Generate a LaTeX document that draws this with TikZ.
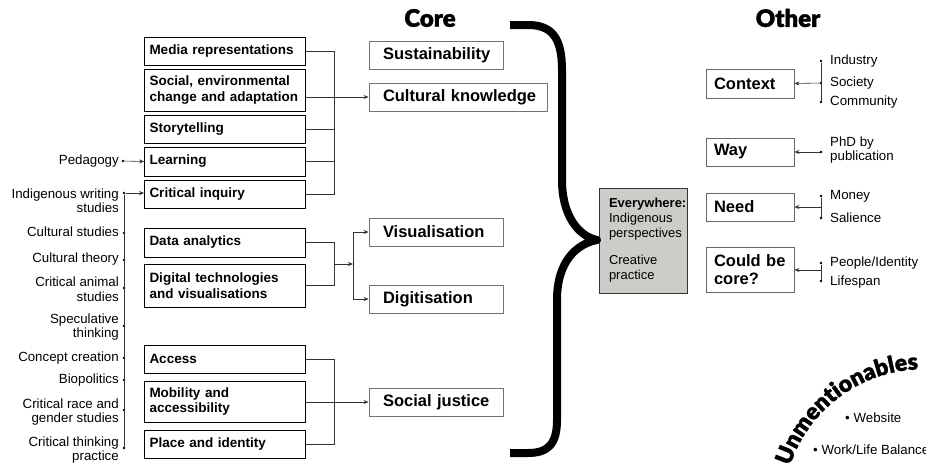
\documentclass[tikz,border=0pt]{standalone}
\usepackage{fontspec}
\setmainfont{Liberation Sans}
\IfFontExistsTF{Lato Black}{\newfontfamily\blackfont[FakeBold=1.5]{Lato Black}}{\newfontfamily\blackfont[FakeBold=2]{Liberation Sans Bold}}
\usetikzlibrary{arrows.meta,decorations.text}
\definecolor{evgray}{RGB}{205,204,201}
\begin{document}
\begin{tikzpicture}[x=1pt,y=-1pt,
  lbox/.style={draw=black, line width=0.8pt, text width=151pt, inner xsep=5pt, inner ysep=0pt, align=left, font=\fontsize{13.5}{15.5}\selectfont\bfseries},
  cbox/.style={draw=black!55, line width=0.8pt, text width=106pt, inner xsep=14pt, inner ysep=0pt, minimum height=28pt, align=left, font=\fontsize{16.5}{18}\selectfont\bfseries},
  rbox/.style={draw=black!60, line width=0.8pt, text width=72pt, inner xsep=8pt, inner ysep=0pt, align=left, font=\fontsize{16.5}{18}\selectfont\bfseries},
  slab/.style={font=\fontsize{13.3}{14.5}\selectfont, inner sep=0pt},
  dot/.style={circle, fill=black, inner sep=0pt, minimum size=2.6pt},
  conn/.style={draw=black!80, line width=0.6pt},
  arr/.style={conn, -{Stealth[length=5pt,width=4pt]}},
  title/.style={font=\blackfont\fontsize{24}{24}\selectfont, inner sep=0pt}
]
\useasboundingbox (0,0) rectangle (926,475);

% titles
\node[title] (core) at (430,18) {Core};
\node[title] (other) at (788,18) {Other};

% left boxes
\node[lbox, minimum height=28pt] (media) at (225,51) {Media representations};
\node[lbox, minimum height=42pt] (social) at (225,90) {Social, environmental\\change and adaptation};
\node[lbox, minimum height=28pt] (story) at (225,129) {Storytelling};
\node[lbox, minimum height=29pt] (learn) at (225,161.5) {Learning};
\node[lbox, minimum height=28pt] (crit) at (225,194) {Critical inquiry};
\node[lbox, minimum height=29pt] (data) at (225,242.5) {Data analytics};
\node[lbox, minimum height=43pt] (digi) at (225,285.5) {Digital technologies\\and visualisations};
\node[lbox, minimum height=28pt] (access) at (225,359) {Access};
\node[lbox, minimum height=41pt] (mob) at (225,401.5) {Mobility and\\accessibility};
\node[lbox, minimum height=28pt] (place) at (225,444) {Place and identity};

% core boxes
\node[cbox] (sus) at (436,55) {\mbox{Sustainability}};
\node[cbox, text width=150pt] (ck) at (458,97) {\mbox{Cultural knowledge}};
\node[cbox] (vis) at (436,232) {\mbox{Visualisation}};
\node[cbox] (digit) at (436,299) {\mbox{Digitisation}};
\node[cbox] (sj) at (436,402) {\mbox{Social justice}};

% group connectors
\coordinate (bx) at (334,0);
\draw[conn] (media.east) -| (bx |- crit.east) -- (crit.east);
\draw[conn] (story.east) -- (story.east -| bx);
\draw[conn] (learn.east) -- (learn.east -| bx);
\draw[arr] (social.east |- ck.west) -- (ck.west);

\draw[conn] (data.east) -| (bx |- digi.east) -- (digi.east);
\coordinate (j2) at (334,264);
\coordinate (k2) at (353,264);
\draw[arr] (j2) -- (k2);
\draw[arr] (k2) |- (vis.west);
\draw[arr] (k2) |- (digit.west);

\draw[conn] (access.east) -| (bx |- place.east) -- (place.east);
\draw[arr] (mob.east |- sj.west) -- (sj.west);

% left labels
\node[slab, anchor=east] (tped) at (119,161) {Pedagogy};
\node[dot] (dped) at (123,161) {};
\draw[arr] (dped) -- (learn.west);

\node[slab, anchor=east, align=right] (tiws) at (119,200.5) {Indigenous writing\\studies};
\node[dot] (diws) at (124,193) {};
\node[slab, anchor=east] (tcs) at (119,232) {Cultural studies};
\node[dot] (dcs) at (124,233) {};
\node[slab, anchor=east] (tct) at (119,259) {Cultural theory};
\node[dot] (dct) at (124,260) {};
\node[slab, anchor=east, align=right] (tcas) at (119,289) {Critical animal\\studies};
\node[dot] (dcas) at (124,288) {};
\node[slab, anchor=east, align=right] (tspec) at (119,327) {Speculative\\thinking};
\node[dot] (dspec) at (124,326) {};
\node[slab, anchor=east] (tcc) at (119,358) {Concept creation};
\node[dot] (dcc) at (124,358) {};
\node[slab, anchor=east] (tbio) at (119,380) {Biopolitics};
\node[dot] (dbio) at (124,380) {};
\node[slab, anchor=east, align=right] (tcrg) at (119,412) {Critical race and\\gender studies};
\node[dot] (dcrg) at (124,410) {};
\node[slab, anchor=east, align=right] (tctp) at (119,450) {Critical thinking\\practice};
\node[dot] (dctp) at (124,448) {};
\draw[conn] (diws) -- (dctp);
\draw[arr] (diws) -- (diws -| crit.west);

% everywhere box
\node[draw=black!80, fill=evgray, line width=0.9pt, text width=68pt, inner xsep=10pt, inner ysep=0pt, minimum height=105pt, align=left, font=\fontsize{13}{15}\selectfont] (every) at (643,240.5) {\textbf{Everywhere:}\\Indigenous\\perspectives\\[12pt]Creative\\practice};

% brace
\draw[line width=8pt, line join=round] (510,25) -- (528,25) .. controls (552,25) and (562,38) .. (562,70) -- (562,180) .. controls (562,215) and (578,236) .. (597,240) .. controls (576,244) and (557,262) .. (557,300) -- (557,420) .. controls (557,444) and (548,453) .. (528,453) -- (510,453);

% right boxes
\node[rbox, minimum height=29pt] (context) at (750,83.5) {Context};
\node[rbox, minimum height=28pt] (way) at (750,152) {Way};
\node[rbox, minimum height=28pt] (need) at (750,207) {Need};
\node[rbox, minimum height=45pt] (could) at (750,269.5) {Could be\\core?};

% right labels
\node[slab, anchor=west] (tind) at (830,61) {Industry};
\node[dot] (dind) at (821,61) {};
\node[slab, anchor=west] (tsoc) at (830,83) {Society};
\node[dot] (dsoc) at (821,83) {};
\node[slab, anchor=west] (tcom) at (830,102) {Community};
\node[dot] (dcom) at (821,102) {};
\draw[conn] (dind) -- (dcom);
\draw[arr] (dsoc) -- (context.east);

\node[slab, anchor=west, align=left] (tphd) at (830,150) {PhD by\\publication};
\node[dot] (dphd) at (821,152) {};
\draw[arr] (dphd) -- (dphd -| way.east);

\node[slab, anchor=west] (tmon) at (830,196) {Money};
\node[dot] (dmon) at (821,196) {};
\node[slab, anchor=west] (tsal) at (830,218) {Salience};
\node[dot] (dsal) at (821,218) {};
\draw[conn] (dmon) -- (dsal);
\coordinate (jneed) at (821,207);
\draw[arr] (jneed) -- (need.east);

\node[slab, anchor=west] (tpeo) at (830,263) {People/Identity};
\node[dot] (dpeo) at (821,263) {};
\node[slab, anchor=west] (tlif) at (830,282) {Lifespan};
\node[dot] (dlif) at (821,281) {};
\draw[conn] (dpeo) -- (dlif);
\coordinate (jcould) at (821,270);
\draw[arr] (jcould) -- (jcould -| could.east);

% unmentionables
\coordinate (ustart) at (790,466);
\path[decorate, decoration={text along path, text={|\blackfont\fontsize{23}{23}\selectfont|Unmentionables}, text align={fit to path}}] (ustart) arc[start angle=162, end angle=92, radius=140pt];
\node[slab, anchor=west] (web) at (845,418) {• Website};
\node[slab, anchor=west] (wlb) at (813,450) {• Work/Life Balance};
\end{tikzpicture}
\end{document}
